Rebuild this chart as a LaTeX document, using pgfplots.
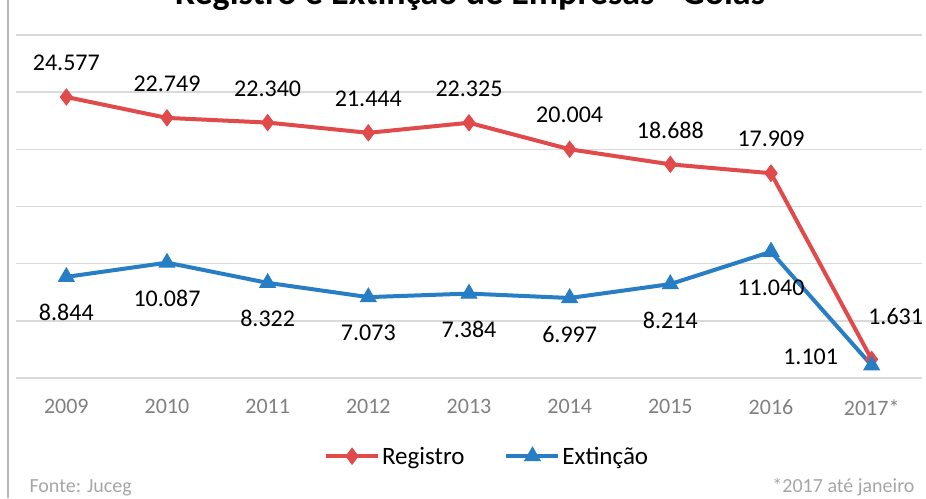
\documentclass[border=0pt]{standalone}
\usepackage{pgfplots}
\pgfplotsset{compat=1.18}
\usepackage{fontspec}
\setmainfont{Carlito}

\definecolor{regred}{RGB}{224,74,74}
\definecolor{extblue}{RGB}{40,126,196}
\definecolor{gridgray}{RGB}{217,217,217}
\definecolor{ticktext}{RGB}{128,128,128}
\definecolor{notegray}{RGB}{166,166,166}

\begin{document}
\begin{tikzpicture}
\useasboundingbox (0,0) rectangle (926pt,498pt);

% frame edge on the left
\draw[color=notegray!80!white, line width=1.6pt] (8pt,0) -- (8pt,498pt);

% title, cut off at the top as in the source image
\node[anchor=base, font=\bfseries\fontsize{36}{38}\selectfont]
  at (470pt,493pt) {Registro e Extinção de Empresas - Goiás};

\begin{axis}[
  at={(16pt,120pt)}, anchor=south west,
  scale only axis,
  width=906pt, height=343pt,
  xmin=-0.5, xmax=8.5,
  ymin=0, ymax=30000,
  xtick={0,...,8},
  xticklabels={2009,2010,2011,2012,2013,2014,2015,2016,2017*},
  ytick={0,5000,...,30000},
  yticklabels={},
  scaled y ticks=false,
  ymajorgrids=true,
  grid style={color=gridgray, line width=1.5pt},
  axis line style={draw=none},
  major tick length=0pt,
  xticklabel style={font=\fontsize{22}{23}\selectfont, text=ticktext, yshift=-18pt},
  /pgf/number format/assume math mode=true,
  /pgf/number format/1000 sep={.},
  every node near coord/.append style={font=\fontsize{24}{26}\selectfont, text=black, anchor=center},
  legend columns=2,
  legend style={draw=none, fill=none, at={(0.52,-0.228)}, anchor=center,
    font=\fontsize{25}{27}\selectfont, /tikz/every even column/.append style={column sep=38pt}},
  legend image code/.code={
    \draw[#1, mark=none] (0pt,0pt) -- (52pt,0pt);
    \draw[#1, only marks] plot coordinates {(26pt,0pt)};
  },
  clip=false,
]

% Registro, 2009-2016
\addplot[color=regred, line width=4pt, mark=diamond*, mark size=8pt,
  mark options={line width=1pt}, nodes near coords,
  every node near coord/.append style={yshift=34pt}]
  coordinates {(0,24577)(1,22749)(2,22340)(3,21444)(4,22325)(5,20004)(6,18688)(7,17909)};
\addlegendentry{Registro}

% Extincao, 2009-2016
\addplot[color=extblue, line width=4pt, mark=triangle*, mark size=9pt,
  mark options={line width=1pt}, nodes near coords,
  every node near coord/.append style={yshift=-36pt}]
  coordinates {(0,8844)(1,10087)(2,8322)(3,7073)(4,7384)(5,6997)(6,8214)(7,11040)};
\addlegendentry{Extinção}

% 2016 -> 2017*
\addplot[color=regred, line width=4pt, mark=diamond*, mark size=8pt,
  mark options={line width=1pt}, forget plot]
  coordinates {(7,17909)(8,1631)};
\addplot[color=extblue, line width=4pt, mark=triangle*, mark size=9pt,
  mark options={line width=1pt}, forget plot]
  coordinates {(7,11040)(8,1101)};

% labels of 2017*
\addplot[draw=none, forget plot, nodes near coords,
  every node near coord/.append style={xshift=24pt, yshift=43pt}]
  coordinates {(8,1631)};
\addplot[draw=none, forget plot, nodes near coords,
  every node near coord/.append style={xshift=-61pt, yshift=9pt}]
  coordinates {(8,1101)};

\end{axis}

% notes at the bottom
\node[anchor=base west, text=notegray, font=\fontsize{20}{22}\selectfont]
  at (26pt,6pt) {Fonte: Juceg};
\node[anchor=base east, text=notegray, font=\fontsize{20}{22}\selectfont]
  at (918pt,6pt) {*2017 até janeiro};
\end{tikzpicture}
\end{document}
